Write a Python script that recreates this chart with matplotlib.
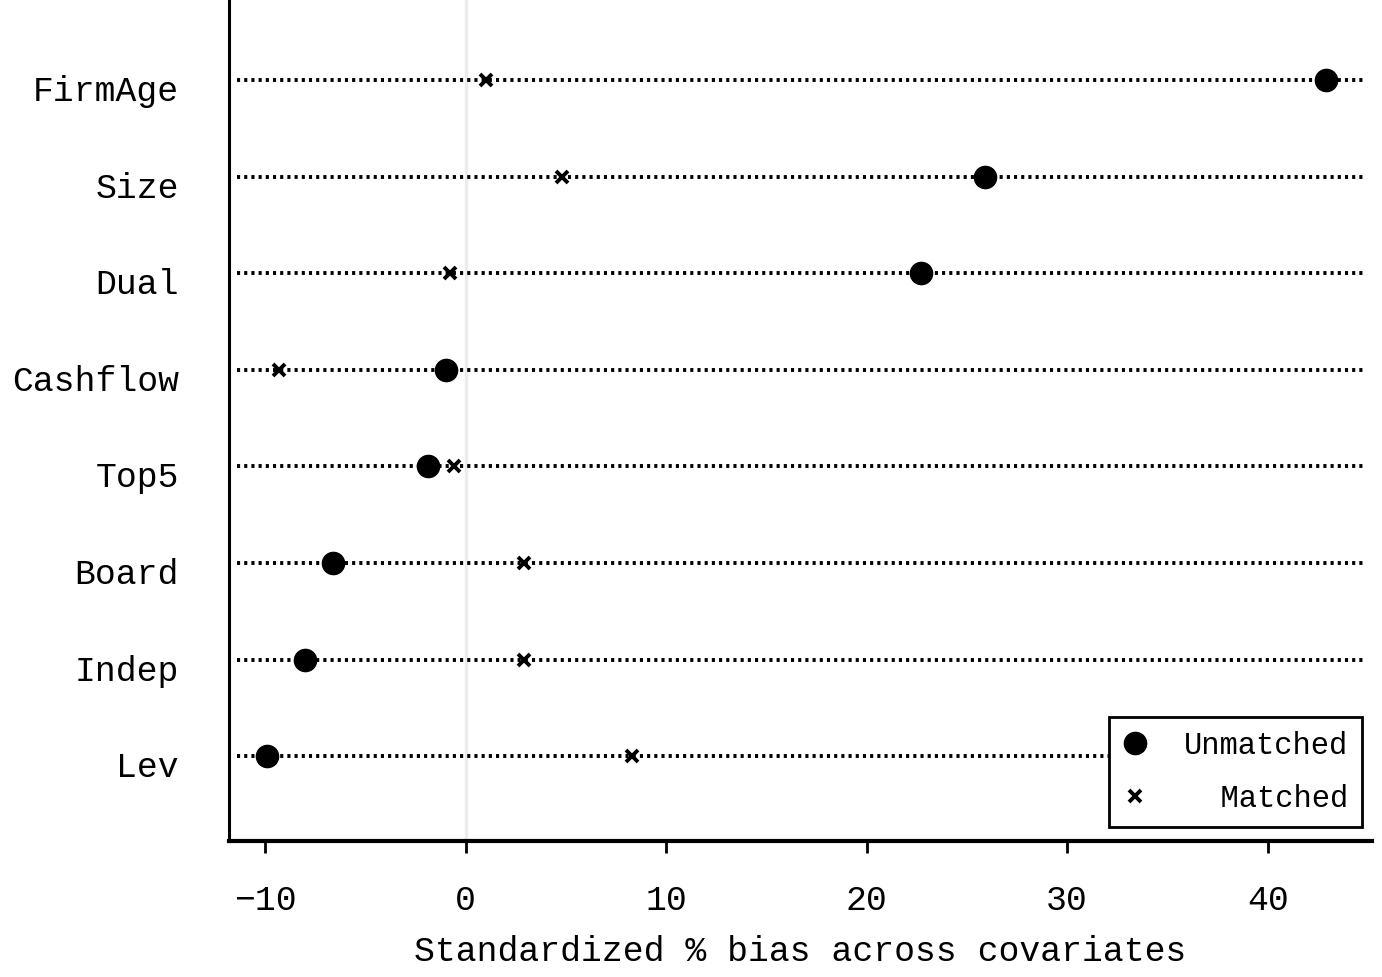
import matplotlib.pyplot as plt
import matplotlib.transforms as mtransforms
import numpy as np

# Standardized % bias before/after matching
covariates = ['FirmAge', 'Size', 'Dual', 'Cashflow', 'Top5', 'Board', 'Indep', 'Lev']
unmatched = [42.9, 25.9, 22.7, -1.0, -1.9, -6.6, -8.0, -9.9]
matched = [1.0, 4.8, -0.8, -9.3, -0.6, 2.9, 2.9, 8.3]
x_ticks = [-10, 0, 10, 20, 30, 40]

plt.rcParams['font.family'] = ['Liberation Mono', 'DejaVu Sans Mono']

fig = plt.figure(figsize=(13.82, 9.78), dpi=100)
ax = fig.add_axes([0.1657, 0.139, 0.827, 0.861])

ypos = np.arange(len(covariates), 0, -1)

# faint reference line at zero
ax.axvline(0, color='#ececec', lw=2.5, zorder=0)

# dotted guide lines
for y in ypos:
    ax.axhline(y, xmin=0.007, xmax=0.994, color='black', lw=2.8,
               linestyle=(0, (0.8, 1.05)), zorder=1)

ax.plot(unmatched, ypos, 'o', color='black', markersize=16, label='Unmatched', zorder=3)
ax.plot(matched, ypos, 'x', color='black', markersize=8, mew=2.8, label='  Matched', zorder=3)

ax.set_xlim(-11.8, 45.2)
ax.set_ylim(0.12, 8.84)
ax.set_yticks(ypos)
ax.set_yticklabels(covariates, fontsize=25)
ax.tick_params(axis='y', length=0, pad=36)
# labels sit a little below their dotted line
shift = mtransforms.ScaledTranslation(0, -0.07, fig.dpi_scale_trans)
for lbl in ax.get_yticklabels():
    lbl.set_transform(lbl.get_transform() + shift)
ax.set_xticks(x_ticks)
ax.set_xticklabels(['\u221210', '0', '10', '20', '30', '40'], fontsize=25)
ax.tick_params(axis='x', direction='out', length=8.5, width=2, pad=22)
ax.set_xlabel('Standardized % bias across covariates', fontsize=25, labelpad=13)

ax.spines['top'].set_visible(False)
ax.spines['right'].set_visible(False)
ax.spines['left'].set_linewidth(2.2)
ax.spines['bottom'].set_linewidth(3)

leg = ax.legend(loc='lower right', bbox_to_anchor=(0.991, 0.0166), fontsize=22,
                frameon=True, fancybox=False, edgecolor='black', framealpha=1,
                handlelength=0.8, handletextpad=1.2, borderpad=0.45, labelspacing=0.75,
                borderaxespad=0)
leg.get_frame().set_linewidth(2)
leg.set_zorder(5)

fig.savefig('out.png', dpi=100)
